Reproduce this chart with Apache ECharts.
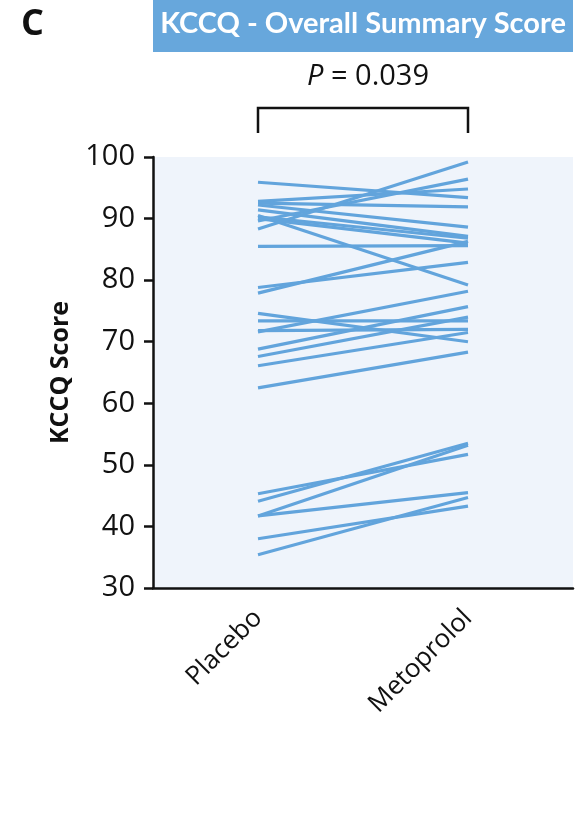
<!DOCTYPE html>
<html><head><meta charset="utf-8">
<script src="https://cdn.jsdelivr.net/npm/echarts@6/dist/echarts.min.js"></script>
<style>html,body{margin:0;padding:0;background:#fff}#c{width:577px;height:838px}</style>
</head><body><div id="c"></div>
<script>
const categories = ['Placebo', 'Metoprolol'];
const placebo = [95.9, 92.8, 92.5, 92.2, 91.4, 90.5, 90.3, 90.0, 89.6, 88.3, 85.5, 78.8, 77.9,
  74.6, 73.4, 71.8, 71.6, 68.8, 67.6, 66.1, 62.5, 45.3, 44.1, 41.7, 41.7, 38.0, 35.4];
const metoprolol = [93.4, 94.8, 91.9, 88.6, 87.1, 79.2, 86.8, 86.0, 96.4, 99.2, 85.6, 82.9, 86.3,
  70.0, 73.4, 72.0, 78.2, 75.7, 74.0, 71.5, 68.3, 51.7, 53.5, 53.2, 45.5, 43.3, 44.7];
const yTicks = [30, 40, 50, 60, 70, 80, 90, 100];
const titleText = 'KCCQ - Overall Summary Score';
const pText = '0.039';

const lineColor = '#62A4DC';
const chart = echarts.init(document.getElementById('c'), null, {renderer: 'canvas'});
const series = placebo.map((v, i) => ({
  type: 'line', data: [v, metoprolol[i]], symbol: 'none', silent: true,
  lineStyle: {color: lineColor, width: 3.2}, z: 3
}));
const font = 'Open Sans';
chart.setOption({
  animation: false,
  grid: {left: 153, right: 4, top: 157, bottom: 250, show: true, backgroundColor: '#EFF4FB', borderWidth: 0},
  xAxis: {
    type: 'category', data: categories, boundaryGap: true,
    axisLine: {lineStyle: {color: '#111', width: 2.5}},
    axisTick: {show: false},
    axisLabel: {rotate: 45, fontSize: 26, color: '#111', fontFamily: font, margin: 26, interval: 0}
  },
  yAxis: {
    type: 'value', min: yTicks[0], max: yTicks[yTicks.length - 1], interval: 10,
    name: 'KCCQ Score', nameLocation: 'middle', nameGap: 80,
    nameTextStyle: {fontSize: 25, fontWeight: 'bold', color: '#111', fontFamily: font},
    axisLine: {show: true, lineStyle: {color: '#111', width: 2.5}},
    axisTick: {show: true, length: 9, lineStyle: {color: '#111', width: 2.5}},
    axisLabel: {fontSize: 29, color: '#111', fontFamily: font, margin: 18},
    splitLine: {show: false}
  },
  series: series
});

const x0 = chart.convertToPixel({xAxisIndex: 0}, 0);
const x1 = chart.convertToPixel({xAxisIndex: 0}, 1);
chart.setOption({
  graphic: [
    {type: 'text', left: 21, top: 7, style: {text: 'C', font: 'bold 36px "Open Sans"', fill: '#111'}},
    {type: 'rect', shape: {x: 153, y: 0, width: 420, height: 52}, style: {fill: '#67A7DC'}},
    {type: 'text', x: 363, y: 24, style: {text: titleText, font: 'bold 29px "Lato"', fill: '#fff', align: 'center', verticalAlign: 'middle'}},
    {type: 'text', x: 368, y: 77, style: {
      text: '{i|P} = ' + pText, align: 'center', verticalAlign: 'middle',
      rich: {i: {font: 'italic 29px "Open Sans"', fill: '#111'}},
      font: '29px "Open Sans"', fill: '#111'}},
    {type: 'polyline', shape: {points: [[x0, 133], [x0, 108], [x1, 108], [x1, 133]]},
      style: {stroke: '#111', lineWidth: 2.5, fill: null}}
  ]
});
</script></body></html>
